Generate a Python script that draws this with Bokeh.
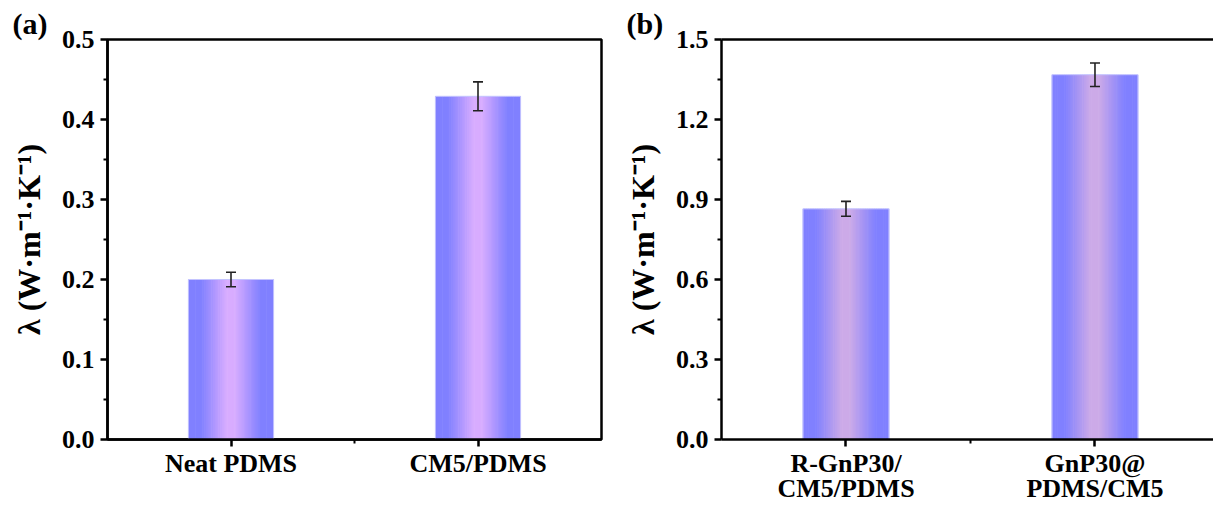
from bokeh.plotting import figure
from bokeh.layouts import row
from bokeh.models import (ColumnDataSource, FixedTicker, Whisker, TeeHead,
                          NumeralTickFormatter, Range1d, LinearAxis)
from bokeh.embed import file_html
from bokeh.resources import INLINE

# ---------------- data ----------------
cats_a = ["Neat PDMS", "CM5/PDMS"]
vals_a = [0.200, 0.429]
errs_a = [0.009, 0.018]

cats_b = ["R-GnP30/\nCM5/PDMS", "GnP30@\nPDMS/CM5"]
vals_b = [0.865, 1.368]
errs_b = [0.028, 0.044]

yticks_a = [0.0, 0.1, 0.2, 0.3, 0.4, 0.5]
yticks_b = [0.0, 0.3, 0.6, 0.9, 1.2, 1.5]

panel_a = "(a)"
panel_b = "(b)"
ylabel = "λ (W·m⁻¹·K⁻¹)"

# ---------------- style ----------------
FONT = "Liberation Serif"
EDGE = (128, 128, 255)
CENTER_A = (216, 172, 255)
CENTER_B = (204, 170, 232)
BAR_W = 0.345
N_STRIPS = 48
H = 506


def hexc(c):
    return "#%02x%02x%02x" % c


def make_panel(cats, vals, errs, yticks, center, width, border_left, border_right,
               x_end, label_text, outline):
    p = figure(width=width, height=H, output_backend="svg", toolbar_location=None,
               x_range=Range1d(0.5, x_end), y_range=Range1d(yticks[0], yticks[-1]),
               min_border_left=border_left, min_border_right=border_right,
               min_border_top=39, min_border_bottom=65)
    p.grid.visible = False
    p.background_fill_color = "white"
    p.border_fill_color = "white"

    # panel letter as title
    p.title.text = label_text
    p.title.align = "left"
    p.title.offset = -95
    p.title.standoff = 0
    p.title.text_font = FONT
    p.title.text_font_style = "bold"
    p.title.text_font_size = "30px"
    p.title.text_color = "black"

    # gradient bars built from strips
    xs, tops, colors = [], [], []
    for i, v in enumerate(vals):
        pos = i + 1
        for k in range(N_STRIPS):
            off = (k + 0.5) / N_STRIPS - 0.5
            t = abs(off) * 2
            f = min(max((t - 0.1) / 0.6, 0.0), 1.0)
            c = tuple(int(round(center[j] + (EDGE[j] - center[j]) * f)) for j in range(3))
            xs.append(pos + off * BAR_W)
            tops.append(v)
            colors.append(hexc(c))
    src = ColumnDataSource(dict(x=xs, top=tops, color=colors))
    p.vbar(x="x", top="top", bottom=0, width=BAR_W / N_STRIPS * 1.35, source=src,
           fill_color="color", line_color=None)
    p.vbar(x=[i + 1 for i in range(len(vals))], top=vals, bottom=0, width=BAR_W,
           fill_color=None, line_color="#c4c4ff", line_width=1)

    # error bars
    esrc = ColumnDataSource(dict(x=[i + 1 for i in range(len(vals))],
                                 upper=[v + e for v, e in zip(vals, errs)],
                                 lower=[v - e for v, e in zip(vals, errs)]))
    w = Whisker(source=esrc, base="x", upper="upper", lower="lower", dimension="height",
                line_color="#222222", line_width=1.6, level="overlay",
                upper_head=TeeHead(size=10, line_color="#222222", line_width=1.6),
                lower_head=TeeHead(size=10, line_color="#222222", line_width=1.6))
    p.add_layout(w)

    xa = p.below[0]
    ya = p.left[0]
    for ax in (xa, ya):
        ax.axis_line_width = 2.5
        ax.axis_line_color = "black"
        ax.major_tick_line_width = 2.5
        ax.minor_tick_line_width = 2
        ax.major_tick_in = 0
        ax.major_tick_out = 7
        ax.minor_tick_in = 0
        ax.minor_tick_out = 4
        ax.major_label_text_font = FONT
        ax.major_label_text_font_style = "bold"
        ax.major_label_text_font_size = "26px"
        ax.major_label_text_color = "black"

    xa.ticker = FixedTicker(ticks=[i + 1 for i in range(len(cats))],
                            minor_ticks=[i + 1.5 for i in range(len(cats) - 1)])
    xa.major_label_overrides = {i + 1: c for i, c in enumerate(cats)}
    xa.major_label_standoff = 2
    xa.major_label_text_line_height = 0.88

    ya.ticker = FixedTicker(ticks=yticks,
                            minor_ticks=[(a + b) / 2 for a, b in zip(yticks[:-1], yticks[1:])])
    ya.formatter = NumeralTickFormatter(format="0.0")
    ya.major_label_standoff = 6
    ya.axis_label = ylabel
    ya.axis_label_text_font = FONT
    ya.axis_label_text_font_style = "bold"
    ya.axis_label_text_font_size = "32px"
    ya.axis_label_text_color = "black"
    ya.axis_label_standoff = 12

    if outline:
        p.outline_line_color = "black"
        p.outline_line_width = 2.5
    else:
        p.outline_line_color = None
        top = LinearAxis(ticker=FixedTicker(ticks=[]), axis_line_width=2.5,
                         axis_line_color="black", major_label_text_font_size="0px",
                         major_tick_out=0, minor_tick_out=0, major_tick_in=0,
                         minor_tick_in=0, major_label_standoff=0,
                         major_tick_line_color=None, minor_tick_line_color=None)
        p.add_layout(top, "above")
    return p


pa = make_panel(cats_a, vals_a, errs_a, yticks_a, CENTER_A, 612, 107, 11, 2.5, panel_a, True)
pb = make_panel(cats_b, vals_b, errs_b, yticks_b, CENTER_B, 601, 109, 0, 2.476, panel_b, False)

layout = row(pa, pb)
open("out.html", "w").write(file_html(layout, INLINE))
